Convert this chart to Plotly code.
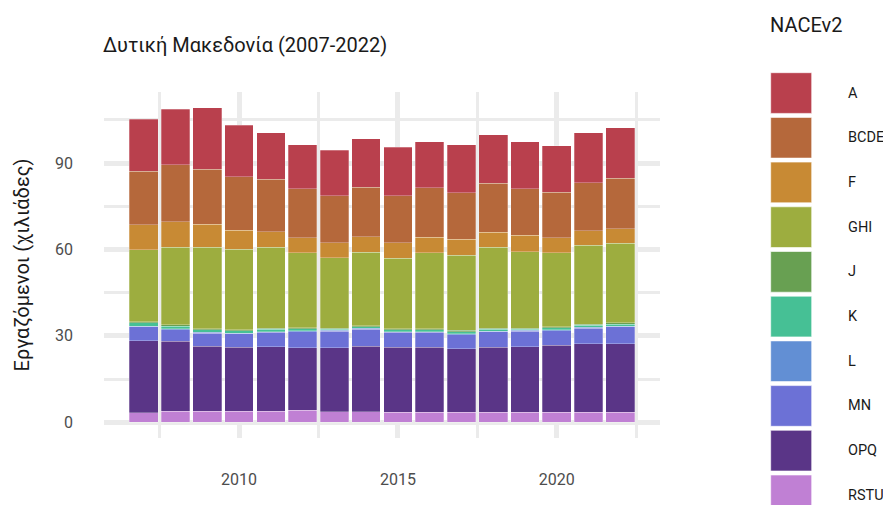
import plotly.graph_objects as go

years = list(range(2007, 2023))

# thousands employed by NACE rev.2 group
RSTU = [3.3, 3.8, 3.8, 3.8, 3.8, 4.1, 3.7, 3.7, 3.5, 3.5, 3.5, 3.5, 3.5, 3.5, 3.5, 3.5]
OPQ = [25.1, 24.3, 22.6, 22.2, 22.5, 21.8, 22.2, 22.7, 22.5, 22.5, 22.0, 22.6, 22.8, 23.2, 23.8, 23.8]
MN = [4.7, 4.1, 4.6, 4.7, 4.9, 5.6, 5.7, 5.9, 5.2, 5.2, 4.9, 5.3, 5.3, 5.1, 5.4, 5.8]
L = [0.3, 0.3, 0.3, 0.3, 0.3, 0.3, 0.3, 0.3, 0.3, 0.3, 0.3, 0.3, 0.3, 0.3, 0.3, 0.3]
K = [1.2, 0.9, 0.8, 0.8, 0.8, 0.6, 0.4, 0.5, 0.6, 0.6, 0.8, 0.6, 0.4, 0.7, 0.7, 0.7]
J = [0.4, 0.4, 0.4, 0.4, 0.4, 0.4, 0.4, 0.4, 0.4, 0.4, 0.4, 0.4, 0.4, 0.4, 0.4, 0.4]
GHI = [24.9, 27.0, 28.3, 27.9, 28.0, 26.0, 24.5, 25.5, 24.5, 26.3, 26.1, 28.0, 26.6, 25.6, 27.4, 27.7]
F = [8.7, 8.8, 8.0, 6.6, 5.4, 5.2, 5.2, 5.5, 5.4, 5.5, 5.6, 5.3, 5.6, 5.2, 5.1, 5.0]
BCDE = [18.5, 19.9, 19.1, 18.6, 18.3, 17.1, 16.3, 17.1, 16.3, 17.1, 16.1, 17.0, 16.2, 15.9, 16.6, 17.6]
A = [18.1, 19.2, 21.3, 17.8, 16.1, 15.3, 15.8, 16.9, 16.8, 16.1, 16.6, 16.8, 16.4, 16.2, 17.4, 17.5]

sectors = ["A", "BCDE", "F", "GHI", "J", "K", "L", "MN", "OPQ", "RSTU"]
values = {"A": A, "BCDE": BCDE, "F": F, "GHI": GHI, "J": J, "K": K,
          "L": L, "MN": MN, "OPQ": OPQ, "RSTU": RSTU}
colors = {"A": "#B9404D", "BCDE": "#B5683B", "F": "#C88A34", "GHI": "#9DAD3F",
          "J": "#68A052", "K": "#46C095", "L": "#628FD4", "MN": "#6C71D6",
          "OPQ": "#5A3587", "RSTU": "#C080D4"}

FONT = "Roboto"
GRID = "#EBEBEB"
OFF = 8  # page body margin
W, H = 891 - OFF, 513 - 2 * OFF
PX0, PX1, PY0, PY1 = 104 - OFF, 660 - OFF, 92 - OFF, 438 - OFF  # panel box in figure px


def px(x):
    return (x - OFF - PX0) / (PX1 - PX0)


def py(y):
    return (PY1 - (y - OFF)) / (PY1 - PY0)


fig = go.Figure()
for s in reversed(sectors):
    fig.add_trace(go.Bar(x=years, y=values[s], name=s, width=0.9,
                         marker=dict(color=colors[s],
                                     line=dict(color="rgba(255,255,255,0.45)", width=0.6)),
                         showlegend=False))

# hand-drawn legend with big square keys, like ggplot's
shapes, annotations = [], []
key_top, pitch, key_h = 72.7, 44.7, 40.7
for i, s in enumerate(sectors):
    y0 = key_top + i * pitch
    shapes.append(dict(type="rect", xref="paper", yref="paper",
                       x0=px(770.7), x1=px(811.7), y0=py(y0), y1=py(y0 + key_h),
                       fillcolor=colors[s], line=dict(color="rgba(255,255,255,0.6)", width=1)))
    annotations.append(dict(text=s, xref="paper", yref="paper",
                            x=px(846), y=py(y0 + key_h / 2),
                            xanchor="left", yanchor="middle", showarrow=False,
                            font=dict(family=FONT, size=14.5, color="#1a1a1a")))
annotations.append(dict(text="NACEv2", xref="paper", yref="paper",
                        x=px(768), y=py(25),
                        xanchor="left", yanchor="middle", showarrow=False,
                        font=dict(family=FONT, size=20, color="#1a1a1a")))

fig.update_layout(
    width=W, height=H,
    margin=dict(l=PX0, r=W - PX1, t=PY0, b=H - PY1, autoexpand=False),
    barmode="stack",
    plot_bgcolor="white", paper_bgcolor="white",
    title=dict(text="Δυτική Μακεδονία (2007-2022)", x=(103 - OFF) / W, xanchor="left",
               y=1 - (45 - OFF) / H, yanchor="middle",
               font=dict(family=FONT, size=20, color="#1a1a1a")),
    shapes=shapes, annotations=annotations,
    font=dict(family=FONT),
)
fig.update_xaxes(range=[2005.75, 2023.25], tickvals=[2010, 2015, 2020],
                 showgrid=True, gridcolor=GRID, gridwidth=5, zeroline=False,
                 ticklabelstandoff=30, tickfont=dict(family=FONT, size=16, color="#4D4D4D"),
                 minor=dict(tickvals=[2007.5, 2012.5, 2017.5, 2022.5], showgrid=True,
                            gridcolor=GRID, gridwidth=3))
fig.update_yaxes(range=[-5.46, 114.7], tickvals=[0, 30, 60, 90],
                 showgrid=True, gridcolor=GRID, gridwidth=5, zeroline=False,
                 ticklabelstandoff=30, tickfont=dict(family=FONT, size=16, color="#4D4D4D"),
                 title=dict(text="Εργαζόμενοι (χιλιάδες)", standoff=20,
                            font=dict(family=FONT, size=20, color="#1a1a1a")),
                 minor=dict(tickvals=[15, 45, 75, 105], showgrid=True,
                            gridcolor=GRID, gridwidth=3))

fig.write_html("out.html")
